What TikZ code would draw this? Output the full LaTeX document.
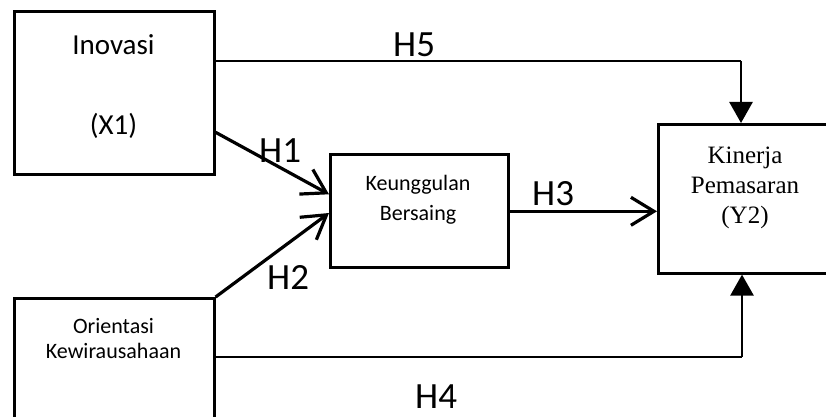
\documentclass[tikz,border=0pt]{standalone}
\usepackage{fontspec}
\setmainfont{Carlito}
\newfontfamily\serifface{Liberation Serif}
\usetikzlibrary{arrows.meta,calc}

\tikzset{
  box/.style={draw, line width=2.6pt, inner sep=0pt, anchor=north west},
  boxtext/.style={inner sep=0pt, anchor=base},
  hlabel/.style={inner sep=0pt, anchor=base west, font=\fontsize{37}{44}\selectfont},
  link/.style={line width=2.6pt},
  openarrow/.style={line width=3.2pt, -{Straight Barb[length=23pt, width=28pt]}},
  solidarrow/.style={line width=2.6pt, -{Triangle[length=21pt, width=23pt]}}
}

\begin{document}
\begin{tikzpicture}[x=1pt, y=-1pt]
  \useasboundingbox (0,0) rectangle (826,417);
  \clip (0,0) rectangle (826,417);

  % variable boxes
  \node[box, minimum width=200pt, minimum height=163pt] (ino) at (13,10) {};
  \node[box, minimum width=178pt, minimum height=113pt] (keu) at (329,153) {};
  \node[box, minimum width=178pt, minimum height=149pt] (kin) at (657,123) {};
  \node[box, minimum width=200pt, minimum height=140pt] (ori) at (13,297) {};

  % box texts
  \node[boxtext, font=\fontsize{29}{35}\selectfont] (inoA) at (113.5,55) {Inovasi};
  \node[boxtext, font=\fontsize{29}{35}\selectfont] (inoB) at (113.5,134) {(X1)};
  \node[boxtext, font=\fontsize{22}{27}\selectfont] (keuA) at (418,190) {Keunggulan};
  \node[boxtext, font=\fontsize{22}{27}\selectfont] (keuB) at (418,220) {Bersaing};
  \node[boxtext, font=\serifface\fontsize{25}{30}\selectfont] (kinA) at (745,163) {Kinerja};
  \node[boxtext, font=\serifface\fontsize{25}{30}\selectfont] (kinB) at (745,193) {Pemasaran};
  \node[boxtext, font=\serifface\fontsize{25}{30}\selectfont] (kinC) at (745,223) {(Y2)};
  \node[boxtext, font=\fontsize{22}{27}\selectfont] (oriA) at (113.5,333) {Orientasi};
  \node[boxtext, font=\fontsize{22}{27}\selectfont] (oriB) at (113.5,358) {Kewirausahaan};

  % bends of the two elbow connectors
  \coordinate (h5c) at (741,61);
  \coordinate (h4c) at (742,357);

  % connectors (yshift is in page direction: positive = upwards)
  \draw[openarrow] ([yshift=-39.5pt]ino.east) -- ([yshift=16.5pt]keu.west);
  \draw[openarrow] (ori.north east) -- ([yshift=-60pt]keu.north west);
  \draw[openarrow] ([yshift=-0.5pt]keu.east) -- ([yshift=-12.5pt]kin.west);
  \draw[link] (ino.east |- h5c) -- (h5c);
  \draw[solidarrow] (h5c) -- (h5c |- kin.north);
  \draw[link] (ori.east |- h4c) -- (h4c);
  \draw[solidarrow] (h4c) -- (h4c |- kin.south);

  % hypothesis labels
  \node[hlabel] (H5) at (393,57) {H5};
  \node[hlabel] (H1) at (259,162) {H1};
  \node[hlabel] (H2) at (267,289) {H2};
  \node[hlabel] (H3) at (532,205) {H3};
  \node[hlabel] (H4) at (415,408) {H4};
\end{tikzpicture}
\end{document}
